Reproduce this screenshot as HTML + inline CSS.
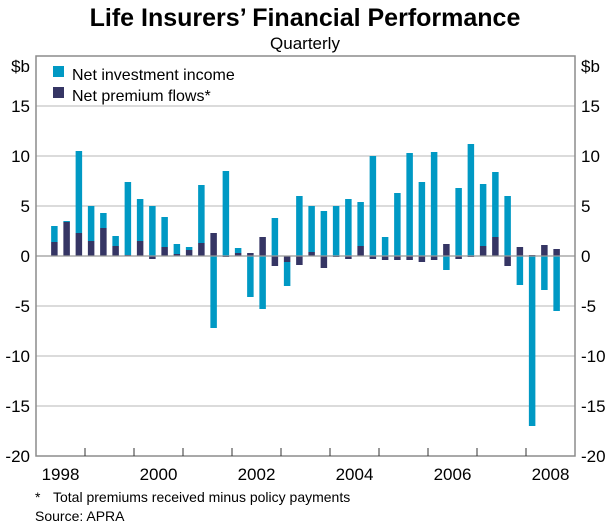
<!DOCTYPE html>
<html><head><meta charset="utf-8"><style>
body{margin:0;background:#fff;}
svg{display:block;font-family:"Liberation Sans",Arial,sans-serif;}
</style></head><body>
<svg id="chart" width="611" height="526" viewBox="0 0 611 526">
<text x="305" y="26" text-anchor="middle" font-size="25" font-weight="bold">Life Insurers’ Financial Performance</text>
<text x="305" y="49" text-anchor="middle" font-size="17">Quarterly</text>
<g id="grid"></g><g id="bars"></g><g id="axes"></g>
<rect x="53" y="66" width="11" height="11" fill="#0099c4"/>
<text x="72" y="80" font-size="16">Net investment income</text>
<rect x="53" y="87" width="11" height="11" fill="#353564"/>
<text x="72" y="101" font-size="16">Net premium flows*</text>
<text x="35" y="502" font-size="14">*</text>
<text x="53" y="502" font-size="14">Total premiums received minus policy payments</text>
<text x="35" y="521" font-size="14">Source: APRA</text>
</svg>
<script>
const investment=[1.6,0.1,8.2,3.5,1.5,1.0,7.3,4.2,5.0,3.0,1.0,0.3,5.8,-7.2,8.5,0.5,-4.1,-5.3,3.8,-2.4,6.0,4.6,4.5,5.0,5.7,4.4,10.0,1.9,6.3,10.3,7.4,10.4,-1.4,6.8,11.2,6.2,6.5,6.0,-2.9,-17.0,-3.4,-5.5];
const premium=[1.4,3.4,2.3,1.5,2.8,1.0,0.1,1.5,-0.3,0.9,0.2,0.6,1.3,2.3,-0.1,0.3,0.3,1.9,-1.0,-0.6,-0.9,0.4,-1.2,-0.1,-0.3,1.0,-0.3,-0.4,-0.4,-0.4,-0.6,-0.4,1.2,-0.3,-0.1,1.0,1.9,-1.0,0.9,0.1,1.1,0.7];
const yTicks=[-20,-15,-10,-5,0,5,10,15];
const yearLabels=["1998","2000","2002","2004","2006","2008"];
const NS="http://www.w3.org/2000/svg";
const L=36,R=575,T=56,B=456,startQ=1; // first bar = Q2 1998
const qW=(R-L)/44;
function y(v){return T+(20-v)*(B-T)/40;}
function xq(i){return L+(i+startQ+0.5)*qW;}
function mk(tag,attrs,parent){const e=document.createElementNS(NS,tag);for(const k in attrs)e.setAttribute(k,attrs[k]);document.getElementById(parent).appendChild(e);return e;}
yTicks.forEach(t=>{
  if(t>-20&&t!==0){const g=mk('line',{x1:L,x2:R,y1:y(t),y2:y(t),stroke:'#cfcfcf','stroke-width':1.5},'grid');
  
  }
  const a=mk('text',{x:30,y:y(t)+6,'text-anchor':'end','font-size':17},'axes');a.textContent=t;
  
  
  const b=mk('text',{x:581,y:y(t)+6,'font-size':17},'axes');b.textContent=t;
  
  
});
['left','right'].forEach((s,k)=>{const u=mk('text',{x:k?581:30,y:y(20)+16,'text-anchor':k?'start':'end','font-size':17},'axes');u.textContent='$b';

});
const bw=6.5;
investment.forEach((iv,i)=>{
  const p=premium[i];const x=xq(i)-bw/2;
  let base=0;
  if((iv>=0&&p>=0)||(iv<0&&p<0))base=p;
  const r1=mk('rect',{x:x,y:y(Math.max(base,base+iv)),width:bw,height:Math.abs(iv)*(B-T)/40,fill:'#0099c4'},'bars');
  
  
  const r2=mk('rect',{x:x,y:y(Math.max(0,p)),width:bw,height:Math.abs(p)*(B-T)/40,fill:'#353564'},'bars');
  
  
});
const z=mk('line',{x1:L,x2:R,y1:y(0),y2:y(0),stroke:'#999','stroke-width':1.2},'axes');


const fr=mk('rect',{x:L,y:T,width:R-L,height:B-T,fill:'none',stroke:'#8c8c8c','stroke-width':1.5},'axes');


for(let k=1;k<11;k++){const t=mk('line',{x1:L+k*4*qW,x2:L+k*4*qW,y1:B,y2:B-8,stroke:'#333','stroke-width':1},'axes');

}
yearLabels.forEach((lab,j)=>{const t=mk('text',{x:L+(j*2+0.5)*4*qW,y:B+24,'text-anchor':'middle','font-size':17},'axes');t.textContent=lab;

});
</script>
</body></html>
